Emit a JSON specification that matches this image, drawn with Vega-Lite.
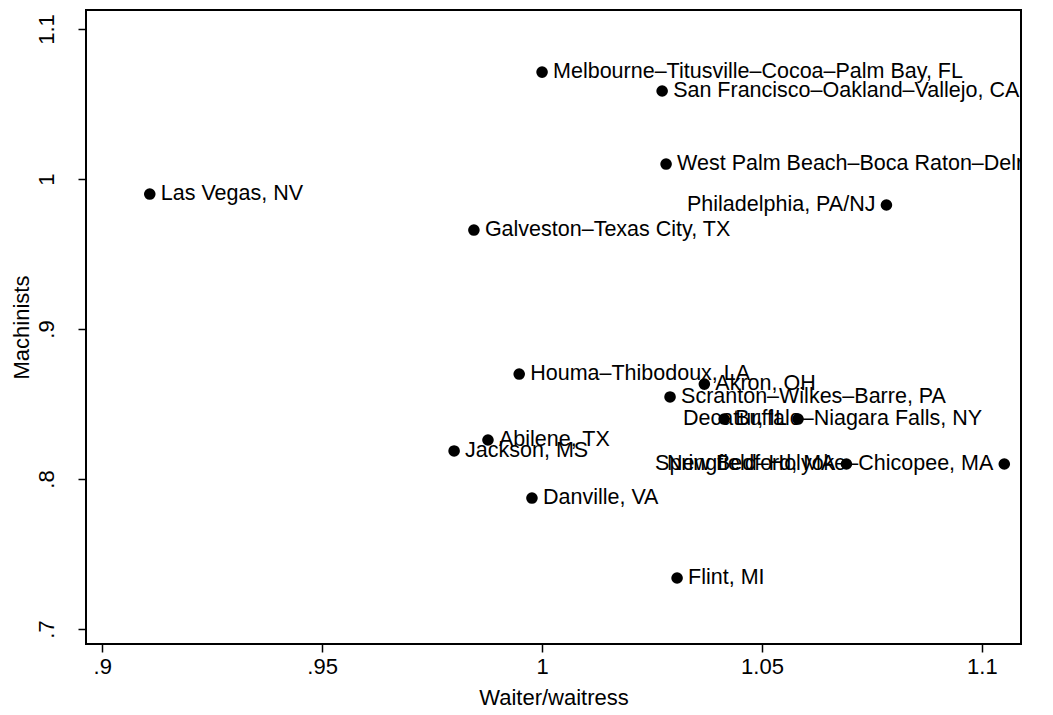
{
  "$schema": "https://vega.github.io/schema/vega-lite/v6.json",
  "width": 935,
  "height": 634,
  "autosize": {"type": "none"},
  "padding": {"left": 86, "top": 10, "right": 32, "bottom": 71},
  "background": "white",
  "config": {
    "font": "Liberation Sans",
    "view": {"stroke": "black", "strokeWidth": 2},
    "axis": {
      "domain": false,
      "grid": false,
      "tickColor": "black",
      "tickWidth": 1.5,
      "tickSize": 8,
      "labelColor": "black",
      "labelFont": "Liberation Sans",
      "labelFontSize": 22,
      "titleColor": "black",
      "titleFont": "Liberation Sans",
      "titleFontSize": 22,
      "titleFontWeight": "normal"
    }
  },
  "data": {
    "values": [
      {"city": "Melbourne–Titusville–Cocoa–Palm Bay, FL", "waiter": 1.0, "machinist": 1.0713},
      {"city": "San Francisco–Oakland–Vallejo, CA", "waiter": 1.0273, "machinist": 1.0587},
      {"city": "West Palm Beach–Boca Raton–Delray Beach, FL", "waiter": 1.0282, "machinist": 1.010},
      {"city": "Las Vegas, NV", "waiter": 0.9108, "machinist": 0.990},
      {"city": "Philadelphia, PA/NJ", "waiter": 1.0783, "machinist": 0.9827},
      {"city": "Galveston–Texas City, TX", "waiter": 0.9845, "machinist": 0.966},
      {"city": "Houma–Thibodoux, LA", "waiter": 0.9948, "machinist": 0.870},
      {"city": "Akron, OH", "waiter": 1.0369, "machinist": 0.8633},
      {"city": "Scranton–Wilkes–Barre, PA", "waiter": 1.0291, "machinist": 0.8547},
      {"city": "Buffalo–Niagara Falls, NY", "waiter": 1.0414, "machinist": 0.840},
      {"city": "Decatur, IL", "waiter": 1.0582, "machinist": 0.840},
      {"city": "Abilene, TX", "waiter": 0.9877, "machinist": 0.826},
      {"city": "Jackson, MS", "waiter": 0.980, "machinist": 0.8187},
      {"city": "New Bedford, MA", "waiter": 1.0692, "machinist": 0.810},
      {"city": "Springfield–Holyoke–Chicopee, MA", "waiter": 1.1051, "machinist": 0.810},
      {"city": "Danville, VA", "waiter": 0.9977, "machinist": 0.7873},
      {"city": "Flint, MI", "waiter": 1.0307, "machinist": 0.734}
    ]
  },
  "encoding": {
    "x": {
      "field": "waiter",
      "type": "quantitative",
      "title": "Waiter/waitress",
      "scale": {"domain": [0.8963, 1.1089], "nice": false, "zero": false},
      "axis": {
        "values": [0.9, 0.95, 1, 1.05, 1.1],
        "labelExpr": "datum.value < 1 ? slice(format(datum.value, '.2~f'), 1) : format(datum.value, '.2~f')",
        "labelPadding": 4,
        "titlePadding": 10
      }
    },
    "y": {
      "field": "machinist",
      "type": "quantitative",
      "title": "Machinists",
      "scale": {"domain": [0.69, 1.1127], "nice": false, "zero": false},
      "axis": {
        "values": [0.7, 0.8, 0.9, 1, 1.1],
        "labelExpr": "datum.value < 1 ? slice(format(datum.value, '.1~f'), 1) : format(datum.value, '.1~f')",
        "labelAngle": -90,
        "labelAlign": "center",
        "labelBaseline": "bottom",
        "labelPadding": 20,
        "titlePadding": 2
      }
    }
  },
  "layer": [
    {
      "mark": {"type": "point", "filled": true, "shape": "circle", "size": 135, "color": "black", "opacity": 1}
    },
    {
      "transform": [{"filter": {"not": {"field": "city", "oneOf": ["Philadelphia, PA/NJ", "Decatur, IL", "New Bedford, MA", "Springfield–Holyoke–Chicopee, MA"]}}}],
      "mark": {"type": "text", "align": "left", "baseline": "middle", "dx": 11, "fontSize": 21.5, "color": "black", "clip": true},
      "encoding": {"text": {"field": "city"}}
    },
    {
      "transform": [{"filter": {"field": "city", "oneOf": ["Philadelphia, PA/NJ", "Decatur, IL", "New Bedford, MA", "Springfield–Holyoke–Chicopee, MA"]}}],
      "mark": {"type": "text", "align": "right", "baseline": "middle", "dx": -11, "fontSize": 21.5, "color": "black", "clip": true},
      "encoding": {"text": {"field": "city"}}
    }
  ]
}
